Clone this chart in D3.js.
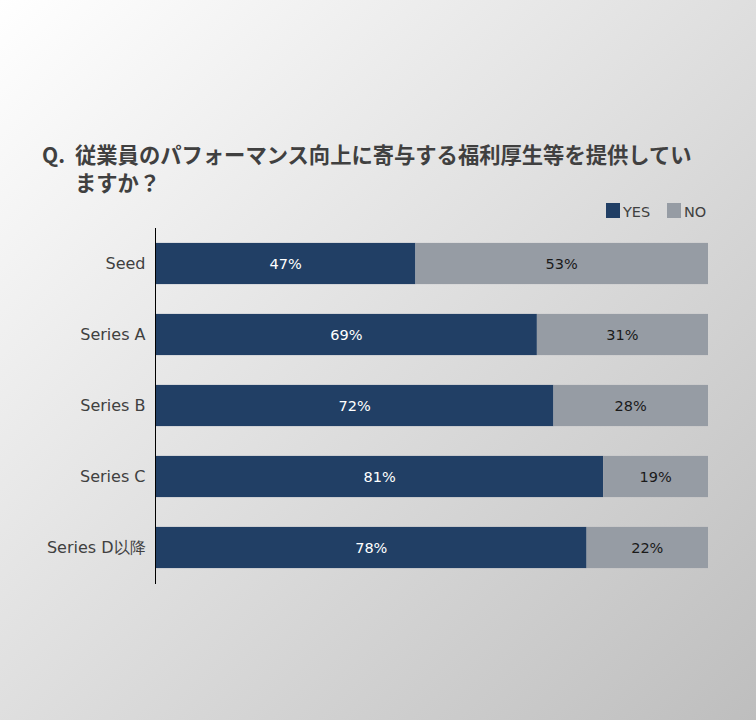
<!DOCTYPE html>
<html><head><meta charset="utf-8">
<script src="https://cdn.jsdelivr.net/npm/d3@7"></script>
<style>
html,body{margin:0;padding:0;}
body{width:756px;height:720px;overflow:hidden;}
</style></head>
<body>
<script>
const categories = ["Seed","Series A","Series B","Series C","Series D以降"];
const yesValues = [47,69,72,81,78];
const noValues = [53,31,28,19,22];
const seriesNames = ["YES","NO"];
const colors = ["#213f65","#969ca4"];

const W=756,H=720;
const svg=d3.select("body").append("svg").attr("width",W).attr("height",H);
const defs=svg.append("defs");
const g=defs.append("linearGradient").attr("id","bg").attr("x1","0").attr("y1","0").attr("x2","1").attr("y2","1");
g.append("stop").attr("offset","0").attr("stop-color","#ffffff");
g.append("stop").attr("offset","1").attr("stop-color","#bebebe");
svg.append("rect").attr("width",W).attr("height",H).attr("fill","url(#bg)");

const font="'DejaVu Sans', Verdana, sans-serif";
const jp="'Noto Sans CJK JP', sans-serif";

// title
svg.append("text").attr("x",42).attr("y",163).attr("font-family",jp).attr("font-weight","bold")
  .attr("font-size",21).attr("fill","#404040").text("Q.");
svg.append("text").attr("x",75).attr("y",163).attr("font-family",jp).attr("font-weight","bold")
  .attr("font-size",21.3).attr("fill","#404040").text("従業員のパフォーマンス向上に寄与する福利厚生等を提供してい");
svg.append("text").attr("x",75).attr("y",191).attr("font-family",jp).attr("font-weight","bold")
  .attr("font-size",21.3).attr("fill","#404040").text("ますか？");

// legend
const legX=[606,667];
seriesNames.forEach((n,i)=>{
  svg.append("rect").attr("x",legX[i]).attr("y",203).attr("width",14).attr("height",15).attr("fill",colors[i]);
  svg.append("text").attr("x",legX[i]+17).attr("y",216.5).attr("font-family",font).attr("font-size",14.5)
    .attr("fill","#404040").text(n);
});

const x=d3.scaleLinear().domain([0,100]).range([156,708]);
const y=d3.scaleBand().domain(categories).range([228,583]).paddingInner(0.42).paddingOuter(0.21);

const data=categories.map((c,i)=>({c,yes:yesValues[i],no:noValues[i]}));

const rows=svg.append("g").selectAll("g").data(data).join("g");
rows.append("rect").attr("x",x(0)).attr("y",d=>y(d.c)).attr("width",d=>x(d.yes)-x(0))
  .attr("height",y.bandwidth()).attr("fill",colors[0]);
rows.append("rect").attr("x",d=>x(d.yes)).attr("y",d=>y(d.c)).attr("width",d=>x(d.yes+d.no)-x(d.yes))
  .attr("height",y.bandwidth()).attr("fill",colors[1]);
rows.append("text").attr("x",d=>(x(0)+x(d.yes))/2).attr("y",d=>y(d.c)+y.bandwidth()/2+5.5)
  .attr("text-anchor","middle").attr("font-family",font).attr("font-size",14.5).attr("fill","#ffffff")
  .text(d=>d.yes+"%");
rows.append("text").attr("x",d=>(x(d.yes)+x(d.yes+d.no))/2).attr("y",d=>y(d.c)+y.bandwidth()/2+5.5)
  .attr("text-anchor","middle").attr("font-family",font).attr("font-size",14.5).attr("fill","#1a1a1a")
  .text(d=>d.no+"%");

// axis
const ax=svg.append("g").attr("transform","translate(155.5,0)")
  .call(d3.axisLeft(y).tickSize(0).tickPadding(10));
ax.select(".domain").attr("stroke","#000").attr("d","M0,228V584");
ax.selectAll("text").attr("font-family",font).attr("font-size",16).attr("fill","#404040");
</script>
</body></html>
